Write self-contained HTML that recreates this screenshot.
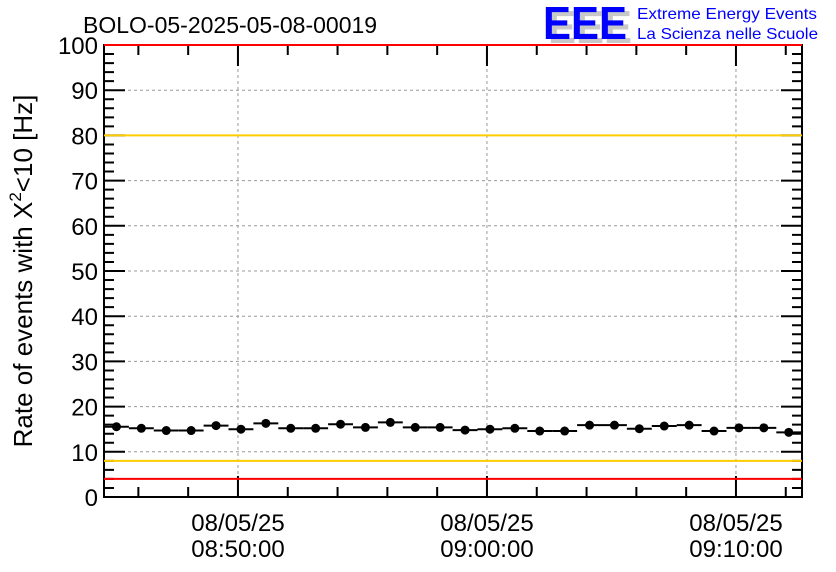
<!DOCTYPE html>
<html><head><meta charset="utf-8"><style>
body{margin:0;background:#fff;}
svg{display:block;font-family:"Liberation Sans",sans-serif;}
</style></head><body>
<svg id="c" width="836" height="572" viewBox="0 0 836 572">
<text x="83" y="33" font-size="23" fill="#000">BOLO-05-2025-05-08-00019</text>
<g>
<text x="548" y="43" font-size="46" font-weight="bold" fill="#c8c8c8" textLength="84" lengthAdjust="spacingAndGlyphs">EEE</text>
<text x="543" y="39" font-size="46" font-weight="bold" fill="#0000ff" textLength="84" lengthAdjust="spacingAndGlyphs">EEE</text>
<text x="637" y="19" font-size="16" fill="#0000ff" textLength="180" lengthAdjust="spacingAndGlyphs">Extreme Energy Events</text>
<text x="637" y="39" font-size="16" fill="#0000ff" textLength="181" lengthAdjust="spacingAndGlyphs">La Scienza nelle Scuole</text>
</g>
<text transform="translate(32,271) rotate(-90)" text-anchor="middle" font-size="26" fill="#000">Rate of events with X<tspan font-size="17" dy="-11">2</tspan><tspan dy="11">&lt;10 [Hz]</tspan></text>
<g id="grid"></g><g id="marks"></g><g id="axes"></g><g id="lines"></g>
</svg>
<script>
const values=[15.55,15.2,14.7,14.7,15.8,15.0,16.3,15.2,15.2,16.1,15.4,16.5,15.4,15.4,14.8,15.0,15.2,14.6,14.6,15.9,15.9,15.1,15.7,15.9,14.6,15.3,15.3,14.3];
const yTicks=[0,10,20,30,40,50,60,70,80,90,100];
const xTickMinutes=[5.38,15.38,25.38];
const xTickDates=["08/05/25","08/05/25","08/05/25"];
const xTickTimes=["08:50:00","09:00:00","09:10:00"];
const refLines=[{v:100,c:"#ff0000"},{v:80,c:"#ffcc00"},{v:8,c:"#ffcc00"},{v:4,c:"#ff0000"}];
const L=104,R=802,T=45,B=497,NS="http://www.w3.org/2000/svg";
const xs=m=>L+m*24.9, ys=v=>B-(v/100)*(B-T);
function mk(p,t,a){const e=document.createElementNS(NS,t);for(const k in a)e.setAttribute(k,a[k]);document.getElementById(p).appendChild(e);return e;}
yTicks.forEach(v=>{if(v>0&&v<100){const g=mk('grid','line',{x1:L,x2:R,y1:ys(v),y2:ys(v),stroke:'#999','stroke-dasharray':'3,3'});

}
const t=mk('axes','text',{x:L-6,y:ys(v)+9,'text-anchor':'end','font-size':'24'});t.textContent=v;

});
xTickMinutes.forEach((m,i)=>{const g=mk('grid','line',{x1:xs(m),x2:xs(m),y1:T,y2:B,stroke:'#999','stroke-dasharray':'3,3'});


const t=mk('axes','text',{x:xs(m),y:531,'text-anchor':'middle','font-size':'24'});t.textContent=xTickDates[i];


const t2=mk('axes','text',{x:xs(m),y:557,'text-anchor':'middle','font-size':'24'});t2.textContent=xTickTimes[i];

});
refLines.forEach(r=>{const l=mk('lines','line',{x1:L,x2:R,y1:ys(r.v),y2:ys(r.v),stroke:r.c,'stroke-width':2});

});
values.forEach((v,i)=>{const x0=xs(i),x1=xs(i+1),y=ys(v);
const l=mk('marks','line',{x1:x0,x2:x1,y1:y,y2:y,stroke:'#000','stroke-width':2});


const c=mk('marks','circle',{cx:(x0+x1)/2,cy:y,r:4.5,fill:'#000'});

});
const f=mk('axes','rect',{x:L,y:T,width:R-L,height:B-T,fill:'none',stroke:'#000','stroke-width':2});


let d='';
for(let v=0;v<=100;v+=2){const len=v%10===0?21:10,y=ys(v);d+=`M${L},${y}h${len}M${R},${y}h${-len}`;}
for(let m=1.38;xs(m)<R;m+=2){const len=(Math.round(m-5.38)%10===0)?21:10,x=xs(m);d+=`M${x},${B}v${-len}M${x},${T}v${len}`;}
const tk=mk('axes','path',{d:d,stroke:'#000','stroke-width':2,fill:'none'});


</script>
</body></html>
